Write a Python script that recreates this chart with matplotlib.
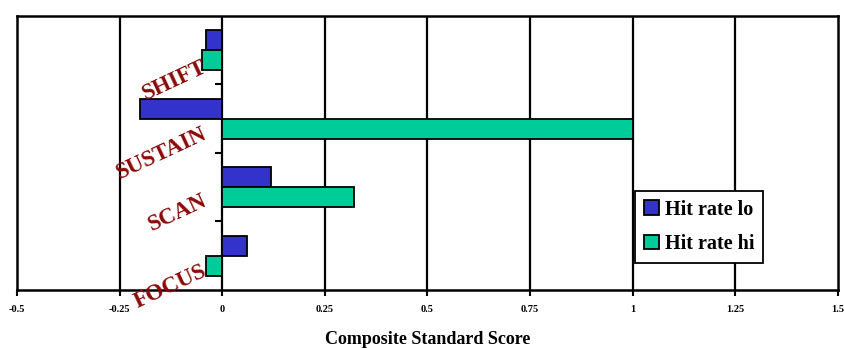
import matplotlib.pyplot as plt
import numpy as np

categories = ["FOCUS", "SCAN", "SUSTAIN", "SHIFT"]
hit_lo = [0.06, 0.12, -0.20, -0.04]
hit_hi = [-0.04, 0.32, 1.00, -0.05]
xticks = [-0.5, -0.25, 0, 0.25, 0.5, 0.75, 1, 1.25, 1.5]
xticklabels = ["-0.5", "-0.25", "0", "0.25", "0.5", "0.75", "1", "1.25", "1.5"]

plt.rcParams['font.family'] = 'Liberation Serif'
plt.rcParams['font.weight'] = 'bold'

fig = plt.figure(figsize=(8.44, 3.48), dpi=100)
ax = fig.add_axes([0.020, 0.167, 0.973, 0.787])

y = np.arange(len(categories))
h = 0.29
ax.barh(y + h / 2, hit_lo, height=h, color="#3333CC", edgecolor="black",
        linewidth=1.3, label="Hit rate lo", zorder=3)
ax.barh(y - h / 2, hit_hi, height=h, color="#00CC99", edgecolor="black",
        linewidth=1.3, label="Hit rate hi", zorder=3)

ax.set_xlim(-0.5, 1.5)
ax.set_ylim(-0.5, 3.5)
ax.set_xticks(xticks)
ax.set_xticklabels(xticklabels, fontsize=7.5, fontweight="bold")
ax.tick_params(axis="x", direction="out", length=4, width=1.5, pad=7)
ax.set_yticks([])
for x in xticks[1:-1]:
    ax.axvline(x, color="black", linewidth=1.6, zorder=1)
for s in ax.spines.values():
    s.set_linewidth(1.8)

# small category ticks on the zero line
sec = ax.secondary_yaxis(0.25)
sec.set_yticks([0.5, 1.5, 2.5])
sec.set_yticklabels([])
sec.tick_params(direction="out", length=5, width=1.5)
sec.spines["left"].set_visible(False)

label_dy = [-0.21, -0.18, -0.20, -0.23]
for yi, name, dy in zip(y, categories, label_dy):
    ax.text(-0.04, yi + dy, name, rotation=25, rotation_mode="anchor",
            ha="right", va="center", color="#8B0A0A", fontsize=16.5,
            fontweight="bold", zorder=4)

ax.set_xlabel("Composite Standard Score", fontsize=13, fontweight="bold",
              labelpad=12)

leg = ax.legend(loc="lower right", bbox_to_anchor=(0.909, 0.098),
                fontsize=14.5, frameon=True, fancybox=False, framealpha=1,
                edgecolor="black", handlelength=0.75, handleheight=0.75,
                handletextpad=0.3, borderpad=0.45, labelspacing=0.7,
                borderaxespad=0)
leg.get_frame().set_linewidth(1.3)
leg.set_zorder(5)

fig.savefig("out.png", dpi=100)
